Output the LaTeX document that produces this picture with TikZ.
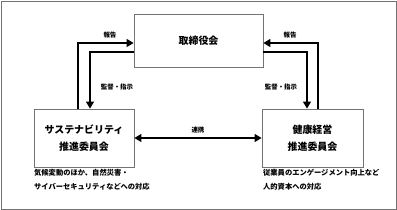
\documentclass[tikz,border=0pt]{standalone}
\usepackage{fontspec}
\newfontfamily\jp{Noto Sans CJK JP}
\usetikzlibrary{arrows.meta}
\tikzset{
  box/.style={draw=black!55, line width=0.8bp, fill=white, inner sep=0pt, align=center, font=\jp\bfseries\fontsize{10}{17}\selectfont},
  arr/.style={line width=1.2bp, -{Triangle[length=7bp,width=8bp]}},
  lbl/.style={inner sep=0pt, font=\jp\bfseries\fontsize{6.5}{8}\selectfont},
  note/.style={inner sep=0pt, anchor=west, align=left, font=\jp\bfseries\fontsize{7.3}{14}\selectfont}
}
\begin{document}
\begin{tikzpicture}[x=1bp,y=-1bp]
\useasboundingbox (0,0) rectangle (397,210);
\draw[black!55, line width=0.8bp] (1,1) rectangle (396,209);
\node[box, minimum width=129bp, minimum height=53bp] (T) at (198.5,40.5) {取締役会};
\node[box, minimum width=100bp, minimum height=58bp] (L) at (84,138) {サステナビリティ\\推進委員会};
\node[box, minimum width=101bp, minimum height=58bp] (R) at (312.5,138) {健康経営\\推進委員会};
\coordinate (lo) at (78,43);
\coordinate (li) at (90,52);
\coordinate (ro) at (318,43);
\coordinate (ri) at (307,52);
\draw[arr] (lo |- L.north) |- (T.west |- lo);
\draw[arr] (T.west |- li) -| (li |- L.north);
\draw[arr] (ro |- R.north) |- (T.east |- ro);
\draw[arr] (T.east |- ri) -| (ri |- R.north);
\draw[line width=1.2bp, {Triangle[length=7bp,width=8bp]}-{Triangle[length=7bp,width=8bp]}] (L.east) -- (R.west);
\node[lbl] (l1) at (110,35) {報告};
\node[lbl] (l2) at (117,87) {監督・指示};
\node[lbl] (l3) at (290,35) {報告};
\node[lbl] (l4) at (281,87) {監督・指示};
\node[lbl] (l5) at (198,130) {連携};
\node[note] (n1) at (34,180) {気候変動のほか、自然災害・\\サイバーセキュリティなどへの対応};
\node[note] (n2) at (263,180) {従業員のエンゲージメント向上など\\人的資本への対応};
\end{tikzpicture}
\end{document}
